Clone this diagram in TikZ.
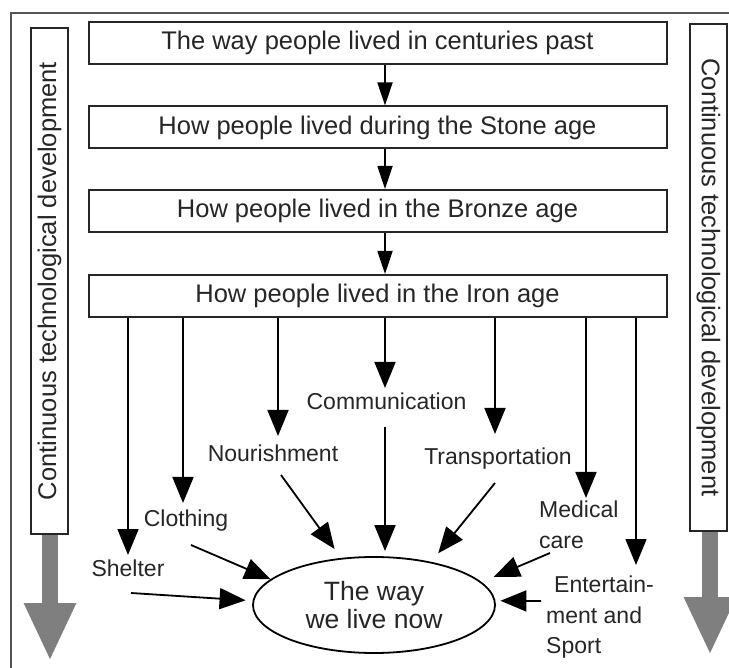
\documentclass[tikz,border=0pt]{standalone}
\usepackage{fontspec}
\setmainfont{Liberation Sans}
\usepackage{graphicx}
\usetikzlibrary{arrows.meta,shapes.geometric}
\definecolor{ink}{HTML}{262626}
\definecolor{framegray}{HTML}{555555}
\definecolor{trendgray}{HTML}{7F7F7F}
\begin{document}
\begin{tikzpicture}[x=1pt,y=-1pt,
  stage/.style={draw=ink, line width=2pt, fill=white, minimum width=578pt,
    minimum height=42pt, inner sep=0pt, text=ink,
    font=\fontsize{25.5}{30}\selectfont},
  sidebar/.style={draw=ink, line width=2pt, fill=white, minimum width=37pt,
    minimum height=506pt, inner sep=0pt, text=ink,
    font=\fontsize{25.5}{30}\selectfont},
  topic/.style={text=ink, inner sep=0pt, font=\fontsize{23}{30.5}\selectfont},
  link/.style={draw=black, line width=1.8pt, -{Triangle[length=23pt,width=15pt]}},
  feed/.style={draw=black, line width=1.8pt, -{Triangle[length=26pt,width=21pt]}},
  trend/.style={draw=trendgray, line width=16pt, -{Triangle[length=58pt,width=48pt]}},
]
\useasboundingbox (0,0) rectangle (729,668);
\fill[white] (0,0) rectangle (729,668);

% outer frame (top and left edges)
\draw[framegray, line width=2.5pt] (729,13) -- (11,13) -- (11,668);

% stages
\node[stage] (b1) at (377.5,43) {The way people lived in centuries past};
\node[stage] (b2) at (377.5,127.5) {How people lived during the Stone age};
\node[stage] (b3) at (377.5,211) {How people lived in the Bronze age};
\node[stage] (b4) at (377.5,296) {How people lived in the Iron age};

\coordinate (col) at (385,0);
\draw[link] (b1.south -| col) -- (b2.north -| col);
\draw[link] (b2.south -| col) -- (b3.north -| col);
\draw[link] (b3.south -| col) -- (b4.north -| col);

% side bars with the big gray arrows
\coordinate (ltip) at (50,661);
\coordinate (rtip) at (710,655);
\node[sidebar] (lbar) at (49.5,281) {};
\node[sidebar, minimum height=507pt] (rbar) at (708.5,277.5) {};
\draw[trend] (lbar.south -| ltip) -- (ltip);
\draw[trend] (rbar.south -| rtip) -- (rtip);
\node[sidebar] at (lbar) {\rotatebox{90}{Continuous technological development}};
\node[sidebar, minimum height=507pt] at (rbar) {\rotatebox{-90}{Continuous technological development}};

% the present
\node[draw=black, line width=1.8pt, ellipse, minimum width=242pt, minimum height=96pt,
  inner sep=0pt, align=center, text=ink, font=\fontsize{26.5}{28}\selectfont]
  (now) at (374,605) {The way\\we live now};

% aspects of life
\node[topic, anchor=base] (lShelter) at (128,576) {Shelter};
\node[topic, anchor=base] (lCloth) at (186,526) {Clothing};
\node[topic, anchor=base] (lNour) at (273,461) {Nourishment};
\node[topic, anchor=base] (lComm) at (386.5,410) {Communication};
\node[topic, anchor=base] (lTrans) at (498,465) {Transportation};
\node[topic, anchor=west, align=left] (lMed) at (539,525) {Medical\\care};
\node[topic, anchor=west, align=left] (lEnt) at (546,617.5) {\hspace*{8pt}Entertain-\\ment and\\Sport};

% arrows from the Iron age down to each aspect
\coordinate (tShelter) at (128,555);
\coordinate (tCloth) at (183,503);
\coordinate (tNour) at (278,436);
\coordinate (tComm) at (385,388);
\coordinate (tTrans) at (495,434);
\coordinate (tMed) at (586,498);
\coordinate (tEnt) at (636,565);
\draw[feed] (b4.south -| tShelter) -- (tShelter);
\draw[feed] (b4.south -| tCloth) -- (tCloth);
\draw[feed] (b4.south -| tNour) -- (tNour);
\draw[feed] (b4.south -| tComm) -- (tComm);
\draw[feed] (b4.south -| tTrans) -- (tTrans);
\draw[feed] (b4.south -| tMed) -- (tMed);
\draw[feed] (b4.south -| tEnt) -- (tEnt);

% arrows from each aspect into the present
\coordinate (sShelter) at (131,593);
\coordinate (sCloth) at (191,545);
\coordinate (sNour) at (281,475);
\coordinate (sComm) at (385,427);
\coordinate (sTrans) at (495,483);
\coordinate (sMed) at (550,553);
\coordinate (sEnt) at (541,601);
\draw[feed, shorten >=7pt] (sShelter) -- (now.178);
\draw[feed] (sCloth) -- (now.166);
\draw[feed, shorten >=11pt] (sNour) -- (now.125);
\draw[feed, shorten >=5pt] (sComm) -- (now.north -| sComm);
\draw[feed, shorten >=11pt] (sTrans) -- (now.37);
\draw[feed, shorten >=13pt] (sMed) -- (now.12);
\draw[feed, shorten >=5pt] (sEnt) -- (now.2);
\end{tikzpicture}
\end{document}
